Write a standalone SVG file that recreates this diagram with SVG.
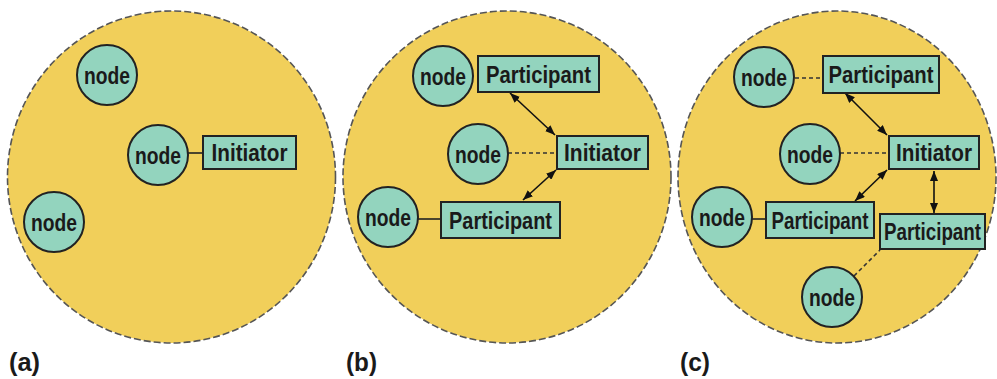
<svg xmlns="http://www.w3.org/2000/svg" width="997" height="379" viewBox="0 0 997 379">
<style>
.bg{fill:#F1CF5A;stroke:#555;stroke-width:1.6;stroke-dasharray:7 3}
.nd{fill:#93D4BE;stroke:#222;stroke-width:2}
.bx{fill:#93D4BE;stroke:#222;stroke-width:2}
.t{font-family:"Liberation Sans",Arial,sans-serif;font-weight:bold;font-size:24px;fill:#1a1a1a;text-anchor:middle}
.lb{font-family:"Liberation Sans",Arial,sans-serif;font-weight:bold;font-size:26px;fill:#1a1a1a}
.ln{stroke:#222;stroke-width:1.6;fill:none}
.dl{stroke:#333;stroke-width:1.6;fill:none;stroke-dasharray:4 3}
.ar{stroke:#111;stroke-width:1.6;fill:none;marker-start:url(#ah);marker-end:url(#ah)}
</style>
<defs>
<marker id="ah" viewBox="0 0 10 8" refX="10" refY="4" markerWidth="10" markerHeight="8" markerUnits="userSpaceOnUse" orient="auto-start-reverse">
<path d="M0,0 L10,4 L0,8 z" fill="#111"/>
</marker>
</defs>
<g id="backgrounds">
<ellipse class="bg" cx="171.5" cy="177" rx="164" ry="166"/>
<ellipse class="bg" cx="507" cy="177" rx="164" ry="166"/>
<ellipse class="bg" cx="837" cy="177" rx="159" ry="166"/>
</g>
<g id="connectors">
<line class="ln" x1="188" y1="153" x2="203" y2="153"/>
<line class="dl" x1="508" y1="153" x2="557" y2="153"/>
<line class="ln" x1="418" y1="219" x2="441" y2="219"/>
<line class="ar" x1="510" y1="93" x2="555" y2="135"/>
<line class="ar" x1="556" y1="170" x2="523" y2="200"/>
<line class="dl" x1="795" y1="78" x2="823" y2="78"/>
<line class="dl" x1="840" y1="153" x2="889" y2="153"/>
<line class="ln" x1="752" y1="219" x2="766" y2="219"/>
<line class="dl" x1="854" y1="276" x2="880" y2="250"/>
<line class="ar" x1="845" y1="93" x2="887" y2="135"/>
<line class="ar" x1="887" y1="170" x2="855" y2="201"/>
<line class="ar" x1="934" y1="171" x2="934" y2="213"/>
</g>
<g id="a-node1"><circle class="nd" cx="107" cy="75" r="30"/><text class="t" x="107" y="84" textLength="46" lengthAdjust="spacingAndGlyphs">node</text></g>
<g id="a-node2"><circle class="nd" cx="158" cy="155" r="30"/><text class="t" x="158" y="164" textLength="46" lengthAdjust="spacingAndGlyphs">node</text></g>
<g id="a-node3"><circle class="nd" cx="54" cy="222" r="30"/><text class="t" x="54" y="231" textLength="46" lengthAdjust="spacingAndGlyphs">node</text></g>
<g id="a-initiator"><rect class="bx" x="203" y="136" width="93" height="33"/><text class="t" x="249.5" y="161" textLength="76" lengthAdjust="spacingAndGlyphs">Initiator</text></g>
<g id="b-node1"><circle class="nd" cx="443" cy="76" r="30"/><text class="t" x="443" y="85" textLength="46" lengthAdjust="spacingAndGlyphs">node</text></g>
<g id="b-participant1"><rect class="bx" x="478" y="56" width="121" height="36"/><text class="t" x="538.5" y="82.5" textLength="105" lengthAdjust="spacingAndGlyphs">Participant</text></g>
<g id="b-node2"><circle class="nd" cx="478" cy="154" r="30"/><text class="t" x="478" y="163" textLength="46" lengthAdjust="spacingAndGlyphs">node</text></g>
<g id="b-initiator"><rect class="bx" x="557" y="136" width="91" height="33"/><text class="t" x="602.5" y="161" textLength="77" lengthAdjust="spacingAndGlyphs">Initiator</text></g>
<g id="b-node3"><circle class="nd" cx="388" cy="217" r="30"/><text class="t" x="388" y="226" textLength="46" lengthAdjust="spacingAndGlyphs">node</text></g>
<g id="b-participant2"><rect class="bx" x="441" y="202" width="119" height="36"/><text class="t" x="500.5" y="228.5" textLength="103" lengthAdjust="spacingAndGlyphs">Participant</text></g>
<g id="c-node1"><circle class="nd" cx="764" cy="77" r="30"/><text class="t" x="764" y="86" textLength="46" lengthAdjust="spacingAndGlyphs">node</text></g>
<g id="c-participant1"><rect class="bx" x="823" y="56" width="116" height="37"/><text class="t" x="881" y="83" textLength="105" lengthAdjust="spacingAndGlyphs">Participant</text></g>
<g id="c-node2"><circle class="nd" cx="810" cy="154" r="30"/><text class="t" x="810" y="163" textLength="46" lengthAdjust="spacingAndGlyphs">node</text></g>
<g id="c-initiator"><rect class="bx" x="889" y="136" width="90" height="33"/><text class="t" x="934" y="161" textLength="76" lengthAdjust="spacingAndGlyphs">Initiator</text></g>
<g id="c-node3"><circle class="nd" cx="722" cy="217" r="30"/><text class="t" x="722" y="226" textLength="46" lengthAdjust="spacingAndGlyphs">node</text></g>
<g id="c-participant2"><rect class="bx" x="766" y="202" width="108" height="36"/><text class="t" x="820" y="228.5" textLength="97" lengthAdjust="spacingAndGlyphs">Participant</text></g>
<g id="c-participant3"><rect class="bx" x="880" y="214" width="105" height="35"/><text class="t" x="932.5" y="240" textLength="97" lengthAdjust="spacingAndGlyphs">Participant</text></g>
<g id="c-node4"><circle class="nd" cx="832" cy="297" r="30"/><text class="t" x="832" y="306" textLength="46" lengthAdjust="spacingAndGlyphs">node</text></g>
<g id="labels">
<text class="lb" x="9" y="371" textLength="31" lengthAdjust="spacingAndGlyphs">(a)</text>
<text class="lb" x="346" y="371" textLength="31" lengthAdjust="spacingAndGlyphs">(b)</text>
<text class="lb" x="680" y="371" textLength="30" lengthAdjust="spacingAndGlyphs">(c)</text>
</g>
</svg>
